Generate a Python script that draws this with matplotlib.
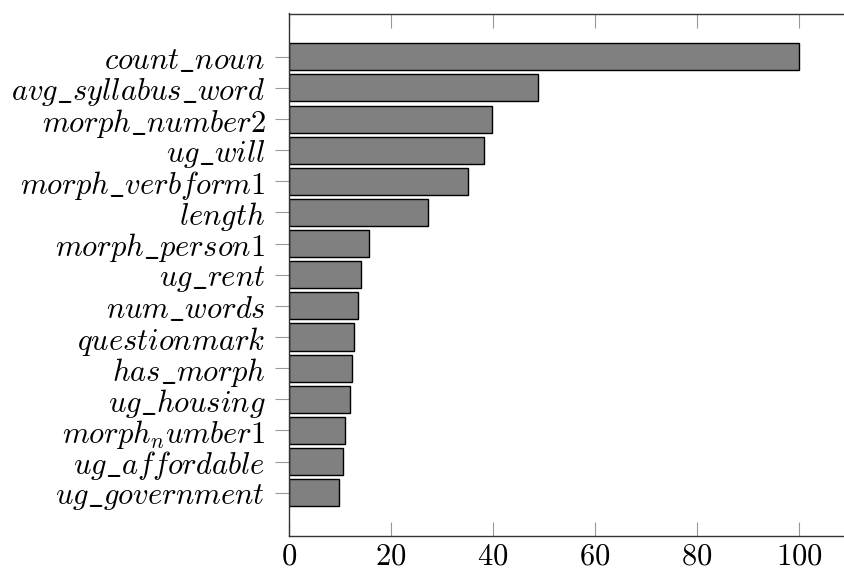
import matplotlib.pyplot as plt

plt.rcParams['mathtext.fontset'] = 'cm'
plt.rcParams['font.family'] = 'serif'
plt.rcParams['font.serif'] = ['DejaVu Serif']

features = [r'$count\_noun$', r'$avg\_syllabus\_word$', r'$morph\_number2$',
            r'$ug\_will$', r'$morph\_verbform1$', r'$length$',
            r'$morph\_person1$', r'$ug\_rent$', r'$num\_words$',
            r'$questionmark$', r'$has\_morph$', r'$ug\_housing$',
            r'$morph_number1$', r'$ug\_affordable$', r'$ug\_government$']
importance = [100.0, 48.9, 39.8, 38.3, 35.0, 27.2, 15.7, 14.1, 13.6,
              12.8, 12.3, 12.0, 10.9, 10.6, 9.8]

fig = plt.figure(figsize=(8.44, 5.69), dpi=100)
# right edge of the axes falls just outside the picture, as in the reference
ax = fig.add_axes([289 / 844, 33 / 569, 561 / 844, 522.5 / 569])

pos = list(range(len(features)))
ax.barh(pos, importance, height=0.87, color='#808080', edgecolor='black', linewidth=1.0)

ax.set_xlim(0, 110)
ax.set_ylim(len(features) - 1 + 1.39, -1.39)
ax.set_xticks([0, 20, 40, 60, 80, 100])
ax.set_xticklabels([rf'${v}$' for v in [0, 20, 40, 60, 80, 100]])
ax.set_yticks(pos)
ax.set_yticklabels(features)

ax.tick_params(axis='x', direction='in', top=True, bottom=True, length=10,
               color='#999999', labelsize=22, pad=3)
ax.tick_params(axis='y', direction='out', left=True, length=10,
               color='#999999', labelsize=22, pad=7)
for s in ax.spines.values():
    s.set_color('#333333')
    s.set_linewidth(1.0)

fig.savefig('out.png', dpi=100)
